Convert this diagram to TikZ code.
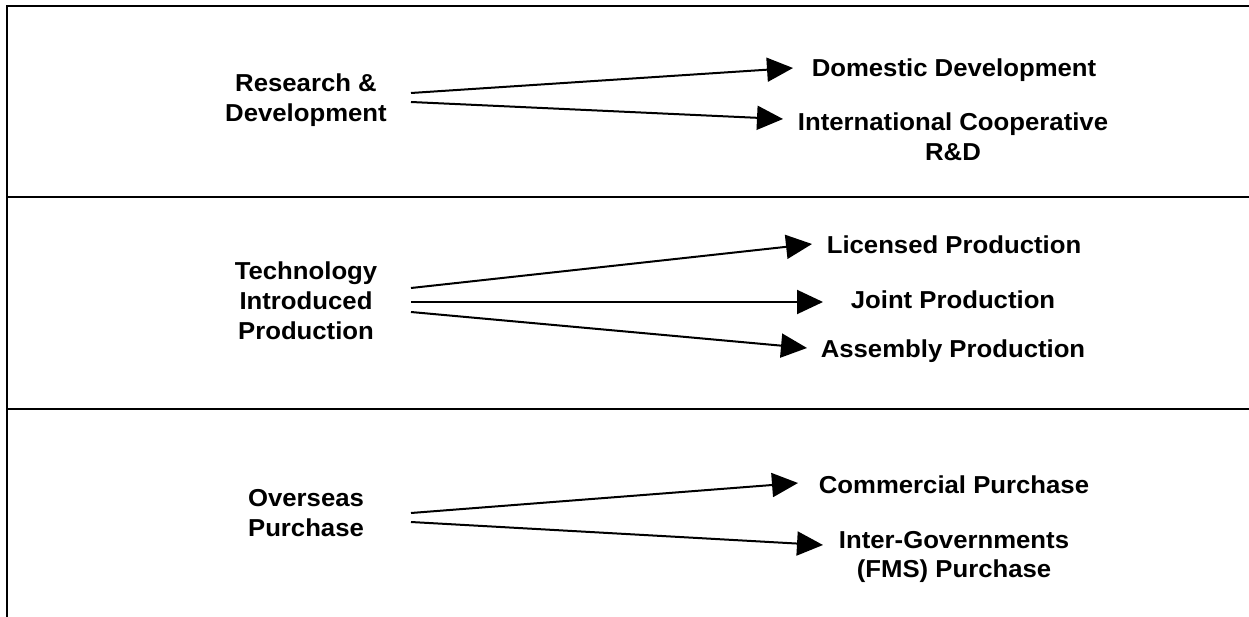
\documentclass[tikz,border=0pt]{standalone}
\usepackage{fontspec}
\setmainfont{Liberation Sans}[FakeStretch=1.05]
\usetikzlibrary{arrows.meta}
\begin{document}
\begin{tikzpicture}[x=1pt,y=-1pt,
  txt/.style={font=\fontsize{24.5}{29.8}\selectfont\bfseries, align=center, inner sep=0pt},
  frameline/.style={line width=2pt},
  arr/.style={line width=2pt, -{Triangle[length=26pt,width=24pt]}}]
\useasboundingbox (0,0) rectangle (1249,617);

% frame and band separators
\draw[frameline] (1249,6) -- (7,6) -- (7,617);
\draw[frameline] (7,197) -- (1249,197);
\draw[frameline] (7,409) -- (1249,409);

% acquisition categories
\node[txt] (rd) at (306,100) {Research \&\\Development};
\node[txt] (tip) at (306,301) {Technology\\Introduced\\Production};
\node[txt] (os) at (306,513) {Overseas\\Purchase};

% acquisition methods
\node[txt] (dom) at (954,70) {Domestic Development};
\node[txt] (intl) at (953,137) {International Cooperative\\R\&D};
\node[txt] (lic) at (954,245) {Licensed Production};
\node[txt] (joint) at (953,300) {Joint Production};
\node[txt] (asm) at (953,351) {Assembly Production};
\node[txt] (com) at (954,485) {Commercial Purchase};
\node[txt] (fms) at (954,557) {Inter-Governments\\(FMS) Purchase};

% arrow start and tip points
\coordinate (rdA) at (411,93);   \coordinate (domT) at (793,68);
\coordinate (rdB) at (411,102);  \coordinate (intlT) at (783,119);
\coordinate (tipA) at (411,288); \coordinate (licT) at (812,244);
\coordinate (tipB) at (411,302); \coordinate (jointT) at (823,302);
\coordinate (tipC) at (411,312); \coordinate (asmT) at (807,348);
\coordinate (osA) at (411,513);  \coordinate (comT) at (798,483);
\coordinate (osB) at (411,522);  \coordinate (fmsT) at (823,545);

\draw[arr] (rdA) -- (domT);
\draw[arr] (rdB) -- (intlT);
\draw[arr] (tipA) -- (licT);
\draw[arr] (tipB) -- (jointT);
\draw[arr] (tipC) -- (asmT);
\draw[arr] (osA) -- (comT);
\draw[arr] (osB) -- (fmsT);
\end{tikzpicture}
\end{document}
